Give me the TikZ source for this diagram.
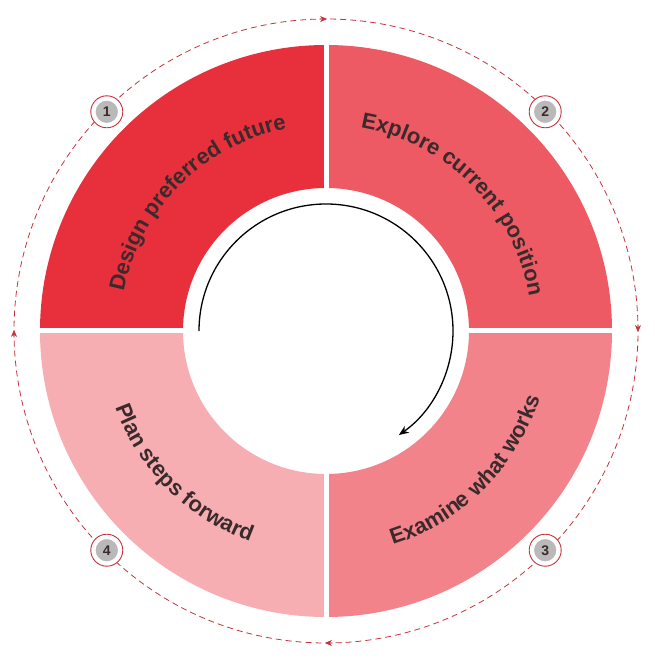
\documentclass[tikz,border=0pt]{standalone}
\usepackage{fontspec}
\setmainfont{Liberation Sans}
\usetikzlibrary{decorations.text,arrows.meta}
\definecolor{qa}{HTML}{E8303D}
\definecolor{qb}{HTML}{EE5A63}
\definecolor{qc}{HTML}{F2838A}
\definecolor{qd}{HTML}{F7AEB3}
\definecolor{dred}{HTML}{C8323C}
\definecolor{txt}{HTML}{3A2A2C}
\tikzset{
  badge/.style={circle,fill=gray!55,draw=white,line width=2.5pt,minimum size=25pt,inner sep=0pt,font=\bfseries\fontsize{14}{14}\selectfont,text=txt},
  badgering/.style={circle,draw=dred,line width=0.9pt,fill=white,minimum size=32pt,inner sep=0pt},
  arctext/.style={decorate,decoration={text along path,text align=center,text={|\bfseries\fontsize{22}{22}\selectfont\color{txt}|#1}}}
}
\begin{document}
\begin{tikzpicture}[x=1pt,y=1pt]
\useasboundingbox (-326,-337) rectangle (328,331);
\fill[white] (-326,-337) rectangle (328,331);
% dashed circle
\draw[dred,line width=0.8pt,dash pattern=on 6pt off 4pt] (0,0) circle (312);
\foreach \a in {90,0,-90,180}{
  \draw[dred,-{Stealth[length=7pt,width=6pt]},line width=0.8pt] (\a+1.2:312) arc (\a+1.2:\a-0.2:312);
}
% sectors
\fill[qa] (180:143) arc (180:90:143) -- (90:286) arc (90:180:286) -- cycle;
\fill[qb] (90:143) arc (90:0:143) -- (0:286) arc (0:90:286) -- cycle;
\fill[qc] (0:143) arc (0:-90:143) -- (-90:286) arc (-90:0:286) -- cycle;
\fill[qd] (-90:143) arc (-90:-180:143) -- (180:286) arc (180:270:286) -- cycle;
\draw[white,line width=5pt] (-290,0) -- (290,0);
\draw[white,line width=5pt] (0,-290) -- (0,290);
% inner arrow
\draw[black,line width=1.3pt,-{Stealth[length=10pt,width=8pt]}] (180:127) arc (180:-55:127);
% texts
\path[arctext={Design preferred future}] (178:206) arc (178:92:206);
\path[arctext={Explore current position}] (88:206) arc (88:2:206);
\path[arctext={Examine what works}] (-88:224) arc (-88:-2:224);
\path[arctext={Plan steps forward}] (182:224) arc (182:268:224);
% badges
\foreach \a/\n in {135/1,45/2,-45/3,-135/4}{
  \node[badgering] at (\a:310) {};
  \node[badge] (b\n) at (\a:310) {\n};
}
\end{tikzpicture}
\end{document}
